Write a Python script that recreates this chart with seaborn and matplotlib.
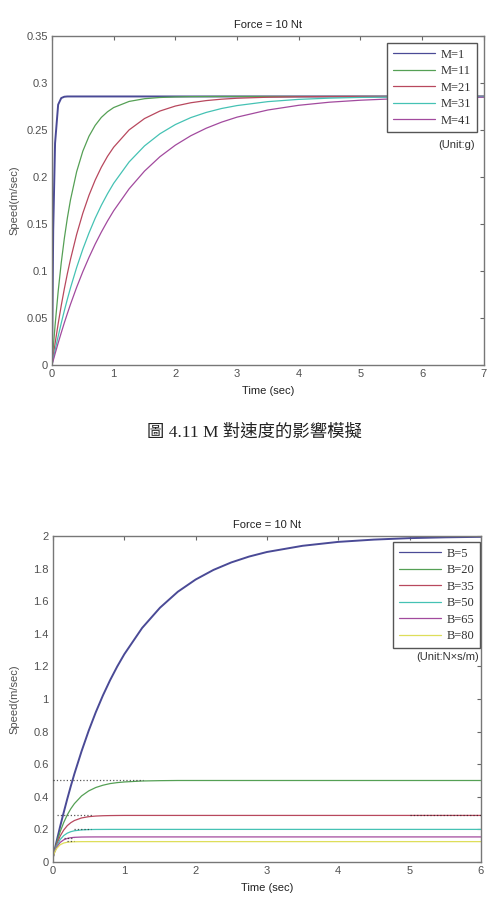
import matplotlib
matplotlib.use("Agg")
import matplotlib.pyplot as plt
import pandas as pd
import seaborn as sns

# --- data ---
# top chart: effect of mass M on speed (Force = 10 Nt)
t_top = [0, 0.02, 0.05, 0.1, 0.15, 0.2, 0.25, 0.3, 0.4, 0.5, 0.6, 0.7, 0.8, 0.9,
         1.0, 1.25, 1.5, 1.75, 2.0, 2.25, 2.5, 2.75, 3.0, 3.5, 4.0, 4.5, 5.0,
         5.5, 6.0, 6.5, 7.0]
m_labels = ["M=1", "M=11", "M=21", "M=31", "M=41"]
v_m1 = [0, 0.144, 0.236, 0.277, 0.284, 0.2854, 0.2857, 0.2857, 0.2857, 0.2857,
        0.2857, 0.2857, 0.2857, 0.2857, 0.2857, 0.2857, 0.2857, 0.2857, 0.2857,
        0.2857, 0.2857, 0.2857, 0.2857, 0.2857, 0.2857, 0.2857, 0.2857, 0.2857,
        0.2857, 0.2857, 0.2857]
v_m11 = [0, 0.0176, 0.0421, 0.0781, 0.1087, 0.1346, 0.1567, 0.1757, 0.2057,
         0.2275, 0.2434, 0.2549, 0.2634, 0.2694, 0.2739, 0.2804, 0.2833, 0.2846,
         0.2852, 0.2855, 0.2856, 0.2857, 0.2857, 0.2857, 0.2857, 0.2857, 0.2857,
         0.2857, 0.2857, 0.2857, 0.2857]
v_m21 = [0, 0.0094, 0.0228, 0.0439, 0.0632, 0.0810, 0.0974, 0.1124, 0.1390,
         0.1615, 0.1806, 0.1967, 0.2104, 0.2220, 0.2317, 0.2501, 0.2622, 0.2702,
         0.2755, 0.2790, 0.2813, 0.2828, 0.2838, 0.2849, 0.2854, 0.2856, 0.2857,
         0.2857, 0.2857, 0.2857, 0.2857]
v_m31 = [0, 0.0064, 0.0157, 0.0305, 0.0445, 0.0577, 0.0702, 0.0821, 0.1038,
         0.1232, 0.1405, 0.1561, 0.1699, 0.1822, 0.1933, 0.2160, 0.2331, 0.2460,
         0.2558, 0.2632, 0.2687, 0.2729, 0.2760, 0.2802, 0.2826, 0.2839, 0.2847,
         0.2851, 0.2854, 0.2855, 0.2856]
v_m41 = [0, 0.0048, 0.0119, 0.0234, 0.0343, 0.0449, 0.0549, 0.0646, 0.0827,
         0.0993, 0.1145, 0.1286, 0.1414, 0.1532, 0.1641, 0.1874, 0.2063, 0.2216,
         0.2339, 0.2439, 0.2519, 0.2584, 0.2637, 0.2713, 0.2763, 0.2796, 0.2817,
         0.2831, 0.2840, 0.2846, 0.2850]

# bottom chart: effect of damping B on speed
t_bot = [0, 0.02, 0.05, 0.1, 0.15, 0.2, 0.25, 0.3, 0.4, 0.5, 0.6, 0.7, 0.8, 0.9,
         1.0, 1.25, 1.5, 1.75, 2.0, 2.25, 2.5, 2.75, 3.0, 3.5, 4.0, 4.5, 5.0,
         5.5, 6.0]
b_labels = ["B=5", "B=20", "B=35", "B=50", "B=65", "B=80"]
v_b5 = [0.03, 0.069, 0.126, 0.218, 0.304, 0.387, 0.466, 0.541, 0.679, 0.805,
        0.919, 1.022, 1.115, 1.199, 1.275, 1.436, 1.560, 1.658, 1.733, 1.792,
        1.838, 1.874, 1.902, 1.940, 1.964, 1.978, 1.987, 1.992, 1.995]
v_b20 = [0.03, 0.066, 0.115, 0.185, 0.242, 0.289, 0.327, 0.358, 0.405, 0.436,
         0.457, 0.471, 0.481, 0.487, 0.491, 0.497, 0.499, 0.5, 0.5, 0.5, 0.5,
         0.5, 0.5, 0.5, 0.5, 0.5, 0.5, 0.5, 0.5]
v_b35 = [0.03, 0.063, 0.106, 0.159, 0.196, 0.223, 0.2413, 0.2544, 0.2702,
         0.2780, 0.2819, 0.2838, 0.2848, 0.2853, 0.2857, 0.2857, 0.2857, 0.2857,
         0.2857, 0.2857, 0.2857, 0.2857, 0.2857, 0.2857, 0.2857, 0.2857, 0.2857,
         0.2857, 0.2857]
v_b50 = [0.03, 0.061, 0.097, 0.1375, 0.162, 0.177, 0.186, 0.1915, 0.1969,
         0.1989, 0.1996, 0.1998, 0.2, 0.2, 0.2, 0.2, 0.2, 0.2, 0.2, 0.2, 0.2,
         0.2, 0.2, 0.2, 0.2, 0.2, 0.2, 0.2, 0.2]
v_b65 = [0.03, 0.058, 0.089, 0.120, 0.136, 0.1446, 0.149, 0.1513, 0.1531,
         0.1536, 0.1538, 0.1538, 0.1538, 0.1538, 0.1538, 0.1538, 0.1538, 0.1538,
         0.1538, 0.1538, 0.1538, 0.1538, 0.1538, 0.1538, 0.1538, 0.1538, 0.1538,
         0.1538, 0.1538]
v_b80 = [0.03, 0.056, 0.082, 0.1058, 0.1164, 0.1211, 0.1233, 0.1242, 0.1248,
         0.125, 0.125, 0.125, 0.125, 0.125, 0.125, 0.125, 0.125, 0.125, 0.125,
         0.125, 0.125, 0.125, 0.125, 0.125, 0.125, 0.125, 0.125, 0.125, 0.125]

# black dotted reference segments on the bottom chart
ref_level = [0.5, 0.2857, 0.2857, 0.2, 0.15, 0.128]
ref_start = [0.0, 0.05, 5.0, 0.3, 0.15, 0.2]
ref_end = [1.26, 0.55, 6.0, 0.53, 0.3, 0.3]

top_yticks = [0, 0.05, 0.1, 0.15, 0.2, 0.25, 0.3, 0.35]
top_yticklabels = ["0", "0.05", "0.1", "0.15", "0.2", "0.25", "0.3", "0.35"]
bot_yticks = [0, 0.2, 0.4, 0.6, 0.8, 1.0, 1.2, 1.4, 1.6, 1.8, 2.0]
bot_yticklabels = ["0", "0.2", "0.4", "0.6", "0.8", "1", "1.2", "1.4", "1.6", "1.8", "2"]

caption = "圖 4.11 M 對速度的影響模擬"

# --- style ---
sns.set_style("white")
plt.rcParams["font.family"] = ["Liberation Sans", "DejaVu Sans"]
plt.rcParams["xtick.direction"] = "in"
plt.rcParams["ytick.direction"] = "in"

palette = ["#4a4a96", "#55a055", "#b8485e", "#45c2b4", "#a24a9e", "#dede5a"]
txt_col = "#505050"


def long_df(t, series, labels):
    rows = []
    for lab, vals in zip(labels, series):
        for x, y in zip(t, vals):
            rows.append({"Time": x, "Speed": y, "Case": lab})
    return pd.DataFrame(rows)


def style_axes(ax, xmax, yticks, ylabels, ylab_x):
    ax.set_xlim(0, xmax)
    ax.set_ylim(yticks[0], yticks[-1])
    ax.set_xticks(range(0, xmax + 1))
    ax.set_yticks(yticks)
    ax.set_yticklabels(ylabels)
    ax.tick_params(top=True, right=True, length=3, width=0.8, colors="#666666",
                   labelcolor=txt_col, labelsize=8, pad=3)
    for sp in ax.spines.values():
        sp.set_color("#777777")
        sp.set_linewidth(1.0)
    ax.set_title("Force = 10 Nt", fontsize=8, color="#222222", pad=6)
    ax.set_xlabel("Time (sec)", fontsize=8, color="#222222", labelpad=5)
    ax.set_ylabel("Speed(m/sec)", fontsize=8, color=txt_col)
    ax.yaxis.set_label_coords(ylab_x, 0.5)


def add_legend(ax, anchor):
    handles, labels = ax.get_legend_handles_labels()
    leg = ax.legend(handles, labels, loc="upper right", bbox_to_anchor=anchor,
                    borderaxespad=0, fancybox=False, framealpha=1,
                    edgecolor="#555555", handlelength=3.4, handletextpad=0.45,
                    labelspacing=0.36, borderpad=0.45,
                    prop={"family": "Liberation Serif", "size": 9})
    leg.get_frame().set_linewidth(1.0)
    for txt in leg.get_texts():
        txt.set_color("#333333")


fig = plt.figure(figsize=(4.89, 8.98), dpi=100)
ax1 = fig.add_axes([0.1063, 0.5935, 0.883, 0.3664])
ax2 = fig.add_axes([0.1084, 0.0401, 0.875, 0.363])

# top chart
df_top = long_df(t_top, [v_m1, v_m11, v_m21, v_m31, v_m41], m_labels)
sns.lineplot(data=df_top, x="Time", y="Speed", hue="Case", palette=palette[:5],
             estimator=None, sort=True, linewidth=0.9, ax=ax1)
ax1.lines[0].set_linewidth(1.4)
style_axes(ax1, 7, top_yticks, top_yticklabels, -0.076)
add_legend(ax1, (0.984, 0.979))
ax1.text(0.979, 0.669, "(Unit:g)", transform=ax1.transAxes, ha="right",
         va="center", fontsize=8, color="#333333")

# bottom chart
df_bot = long_df(t_bot, [v_b5, v_b20, v_b35, v_b50, v_b65, v_b80], b_labels)
sns.lineplot(data=df_bot, x="Time", y="Speed", hue="Case", palette=palette,
             estimator=None, sort=True, linewidth=0.9, ax=ax2)
ax2.lines[0].set_linewidth(1.4)
ax2.hlines(ref_level, ref_start, ref_end, colors="#222222", linestyles=":",
           linewidth=0.9, alpha=0.75, zorder=3)
style_axes(ax2, 6, bot_yticks, bot_yticklabels, -0.079)
add_legend(ax2, (0.998, 0.982))
ax2.text(0.995, 0.629, "(Unit:N×s/m)", transform=ax2.transAxes, ha="right",
         va="center", fontsize=8, color="#333333")

# caption between the two charts
fig.text(0.52, 1 - 432 / 898, caption, ha="center", va="center", fontsize=12.5,
         color="#222222", family=["Liberation Serif", "Noto Sans CJK TC"])

fig.savefig("out.png", dpi=100)
